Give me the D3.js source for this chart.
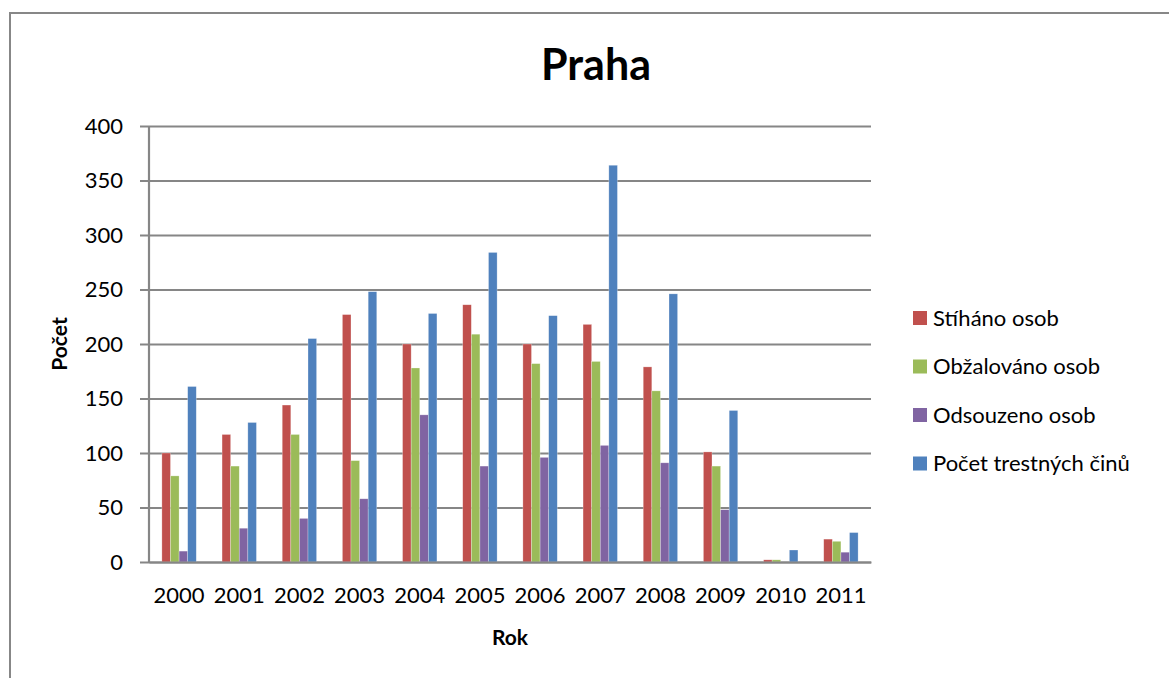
<!DOCTYPE html>
<html>
<head>
<meta charset="utf-8">
<script src="https://cdn.jsdelivr.net/npm/d3@7"></script>
<style>
  body { margin: 0; background: #fff; }
  svg { display: block; font-family: Lato, "Open Sans", sans-serif; }
</style>
</head>
<body>
<div id="chart"></div>
<script>
// data
var years = ["2000", "2001", "2002", "2003", "2004", "2005", "2006", "2007", "2008", "2009", "2010", "2011"];
var seriesNames = ["Stíháno osob", "Obžalováno osob", "Odsouzeno osob", "Počet trestných činů"];
var stihano = [100, 117, 144, 227, 200, 236, 200, 218, 179, 101, 2, 21];
var obzalovano = [79, 88, 117, 93, 178, 209, 182, 184, 157, 88, 2, 19];
var odsouzeno = [10, 31, 40, 58, 135, 88, 96, 107, 91, 48, 0, 9];
var pocetCinu = [161, 128, 205, 248, 228, 284, 226, 364, 246, 139, 11, 27];
var yTicks = [0, 50, 100, 150, 200, 250, 300, 350, 400];

var colors = ["#C0504D", "#9BBB59", "#8064A2", "#4F81BD"];

var W = 1169, H = 678;
var margin = {top: 126, left: 149, right: 1169 - 871, bottom: 678 - 562};
var width = W - margin.left - margin.right,
    height = H - margin.top - margin.bottom;

var dataset = years.map(function (y, i) {
    return {
        label: y,
        valores: [stihano[i], obzalovano[i], odsouzeno[i], pocetCinu[i]].map(function (v, j) {
            return {name: seriesNames[j], value: v};
        })
    };
});

var svg = d3.select("#chart").append("svg")
    .attr("width", W)
    .attr("height", H);

// outer chart frame (right and bottom edges fall outside the page)
svg.append("rect")
    .attr("x", 10).attr("y", 13)
    .attr("width", W + 20).attr("height", H + 20)
    .attr("fill", "none")
    .attr("stroke", "#878787")
    .attr("stroke-width", 2);

svg.append("text")
    .attr("x", 596).attr("y", 80)
    .attr("text-anchor", "middle")
    .style("font-size", "43px")
    .style("font-weight", "bold")
    .text("Praha");

var g = svg.append("g")
    .attr("transform", "translate(" + margin.left + "," + margin.top + ")");

var x0 = d3.scaleBand().domain(years).range([0, width]);
var bw = x0.bandwidth();
var x1 = d3.scaleBand().domain(seriesNames).range([bw * 1.5 / 7, bw * 5.5 / 7]);
var y = d3.scaleLinear().domain([0, 400]).range([height, 0]);
var color = d3.scaleOrdinal().domain(seriesNames).range(colors);

// gridlines + y axis ticks
var yAxis = g.append("g")
    .call(d3.axisLeft(y).tickValues(yTicks).tickSize(9).tickPadding(17));
yAxis.select(".domain").remove();
yAxis.selectAll(".tick line")
    .attr("x2", width)
    .attr("x1", -9)
    .attr("stroke", "#868686")
    .attr("stroke-width", 2.2);
yAxis.selectAll(".tick text")
    .attr("x", -26)
    .style("font-size", "22px")
    .style("font-family", "Lato, 'Open Sans', sans-serif")
    .attr("fill", "#000");

// y axis line
g.append("line")
    .attr("x1", 0).attr("x2", 0)
    .attr("y1", 0).attr("y2", height)
    .attr("stroke", "#868686")
    .attr("stroke-width", 2.2);

var bar = g.selectAll(".grp")
    .data(dataset)
    .enter().append("g")
    .attr("class", "grp")
    .attr("transform", function (d) { return "translate(" + x0(d.label) + ",0)"; });

bar.selectAll("rect")
    .data(function (d) { return d.valores; })
    .enter().append("rect")
    .attr("x", function (d) { return x1(d.name); })
    .attr("width", x1.bandwidth())
    .attr("y", function (d) { return y(d.value); })
    .attr("height", function (d) { return height - y(d.value); })
    .attr("fill", function (d) { return color(d.name); })
    .attr("stroke", "rgba(255,255,255,0.45)")
    .attr("stroke-width", 0.6);

// x axis
var xAxis = g.append("g")
    .attr("transform", "translate(0," + height + ")")
    .call(d3.axisBottom(x0).tickSize(0).tickPadding(25));
xAxis.select(".domain")
    .attr("stroke", "#868686")
    .attr("stroke-width", 2.2);
xAxis.selectAll(".tick text")
    .style("font-size", "22px")
    .style("font-family", "Lato, 'Open Sans', sans-serif")
    .attr("fill", "#000");

// axis titles
svg.append("text")
    .attr("x", margin.left + width / 2).attr("y", 645)
    .attr("text-anchor", "middle")
    .style("font-size", "21px")
    .style("font-weight", "bold")
    .text("Rok");

svg.append("text")
    .attr("transform", "translate(67," + (margin.top + height / 2) + ") rotate(-90)")
    .attr("text-anchor", "middle")
    .style("font-size", "21px")
    .style("font-weight", "bold")
    .text("Počet");

// legend
var legend = svg.selectAll(".legend")
    .data(seriesNames)
    .enter().append("g")
    .attr("class", "legend")
    .attr("transform", function (d, i) { return "translate(913," + (318 + i * 48.5) + ")"; });

legend.append("rect")
    .attr("y", -7)
    .attr("width", 14)
    .attr("height", 14)
    .attr("fill", color);

legend.append("text")
    .attr("x", 20)
    .attr("dy", ".35em")
    .style("font-size", "22px")
    .text(function (d) { return d; });
</script>
</body>
</html>
